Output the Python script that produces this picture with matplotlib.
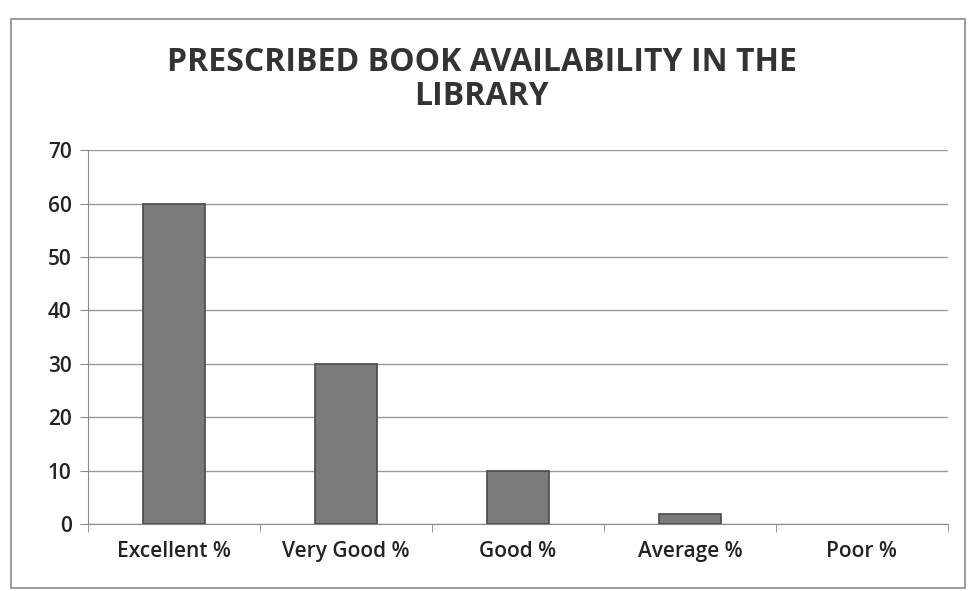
import matplotlib.pyplot as plt
from matplotlib.patches import Rectangle

categories = ["Excellent %", "Very Good %", "Good %", "Average %", "Poor %"]
values = [60, 30, 10, 2, 0]
yticks = [0, 10, 20, 30, 40, 50, 60, 70]


def main():
    plt.rcParams['font.family'] = ['Open Sans', 'DejaVu Sans']
    fig = plt.figure(figsize=(9.69, 5.91), dpi=100)
    ax = fig.add_axes([0.091, 0.113, 0.887, 0.633])

    ax.bar(categories, values, width=0.36, color='#7b7b7b', edgecolor='#4a4a4a',
           linewidth=[1.2 if v > 0 else 0 for v in values], zorder=3)

    ax.set_ylim(0, 70)
    ax.set_xlim(-0.5, 4.5)
    ax.set_yticks(yticks)
    ax.grid(axis='y', color='#9a9a9a', linewidth=1.0, zorder=0)
    for side in ['top', 'right']:
        ax.spines[side].set_visible(False)
    ax.spines['left'].set_color('#8a8a8a')
    ax.spines['bottom'].set_color('#8a8a8a')
    ax.set_xticks([x - 0.5 for x in range(6)], minor=True)
    ax.tick_params(axis='x', which='major', length=0, labelsize=15, pad=12, colors='#222222')
    ax.tick_params(axis='x', which='minor', length=6, color='#8a8a8a')
    ax.tick_params(axis='y', length=6, color='#8a8a8a', labelsize=15, colors='#222222', pad=6)
    for lbl in ax.get_xticklabels() + ax.get_yticklabels():
        lbl.set_fontweight('semibold')

    fig.text(0.497, 0.865, "PRESCRIBED BOOK AVAILABILITY IN THE\nLIBRARY",
             ha='center', va='center', fontsize=23, fontweight='bold',
             color='#333333', linespacing=1.05)

    # outer chart border
    fig.patches.append(Rectangle((0.011, 0.005), 0.985, 0.963, transform=fig.transFigure,
                                 fill=False, edgecolor='#8a8a8a', linewidth=1.2))

    fig.savefig("out.png", dpi=100)
    plt.close(fig)


if __name__ == "__main__":
    main()
